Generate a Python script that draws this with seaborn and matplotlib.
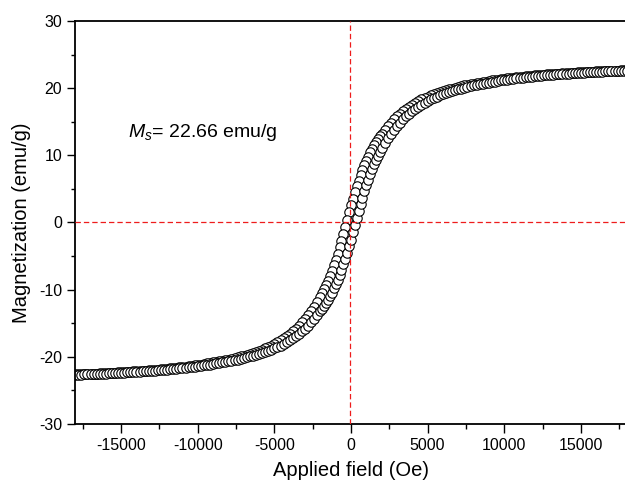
import matplotlib
matplotlib.use("Agg")
import matplotlib.pyplot as plt
import seaborn as sns
import pandas as pd
from matplotlib.ticker import MultipleLocator

# Field sweep (Oe): descending from +18 kOe to -18 kOe, finer steps around zero
field_down = [
    18000, 17800, 17600, 17400, 17200, 17000, 16800, 16600, 16400, 16200,
    16000, 15800, 15600, 15400, 15200, 15000, 14800, 14600, 14400, 14200,
    14000, 13800, 13600, 13400, 13200, 13000, 12800, 12600, 12400, 12200,
    12000, 11800, 11600, 11400, 11200, 11000, 10800, 10600, 10400, 10200,
    10000, 9800, 9600, 9400, 9200, 9000, 8800, 8600, 8400, 8200,
    8000, 7800, 7600, 7400, 7200, 7000, 6800, 6600, 6400, 6200,
    6000, 5800, 5600, 5400, 5200, 5000, 4800, 4600, 4400, 4200,
    4000, 3800, 3600, 3400, 3200, 3000, 2800, 2600, 2400, 2200,
    2000, 1875, 1750, 1625, 1500, 1375, 1250, 1125, 1000, 875,
    750, 625, 500, 375, 250, 125, 0, -125, -250, -375,
    -500, -625, -750, -875, -1000, -1125, -1250, -1375, -1500, -1625,
    -1750, -1875, -2000,
    -2200, -2400, -2600, -2800, -3000, -3200, -3400, -3600, -3800, -4000,
    -4200, -4400, -4600, -4800, -5000, -5200, -5400, -5600, -5800, -6000,
    -6200, -6400, -6600, -6800, -7000, -7200, -7400, -7600, -7800, -8000,
    -8200, -8400, -8600, -8800, -9000, -9200, -9400, -9600, -9800, -10000,
    -10200, -10400, -10600, -10800, -11000, -11200, -11400, -11600, -11800, -12000,
    -12200, -12400, -12600, -12800, -13000, -13200, -13400, -13600, -13800, -14000,
    -14200, -14400, -14600, -14800, -15000, -15200, -15400, -15600, -15800, -16000,
    -16200, -16400, -16600, -16800, -17000, -17200, -17400, -17600, -17800, -18000,
]

# Magnetization (emu/g) on the descending branch
moment_down = [
    22.66, 22.65, 22.64, 22.62, 22.61, 22.59, 22.58, 22.56, 22.54, 22.52,
    22.50, 22.48, 22.45, 22.43, 22.41, 22.38, 22.36, 22.33, 22.30, 22.27,
    22.24, 22.21, 22.18, 22.15, 22.12, 22.09, 22.06, 22.03, 21.99, 21.95,
    21.91, 21.87, 21.82, 21.77, 21.72, 21.67, 21.62, 21.57, 21.51, 21.45,
    21.39, 21.33, 21.27, 21.21, 21.15, 21.07, 20.99, 20.91, 20.83, 20.75,
    20.67, 20.59, 20.50, 20.40, 20.30, 20.18, 20.06, 19.94, 19.82, 19.70,
    19.56, 19.42, 19.28, 19.12, 18.95, 18.75, 18.55, 18.33, 18.08, 17.83,
    17.55, 17.25, 16.95, 16.60, 16.20, 15.80, 15.35, 14.85, 14.35, 13.80,
    13.20, 12.85, 12.42, 12.00, 11.50, 11.00, 10.45, 9.82, 9.20, 8.50,
    7.80, 7.05, 6.25, 5.38, 4.48, 3.55, 2.55, 1.49, 0.43, -0.64,
    -1.70, -2.75, -3.72, -4.66, -5.55, -6.40, -7.20, -7.95, -8.65, -9.32,
    -9.95, -10.55, -11.10,
    -11.90, -12.60, -13.20, -13.80, -14.35, -14.85, -15.35, -15.80, -16.20, -16.60,
    -16.95, -17.25, -17.55, -17.83, -18.08, -18.33, -18.55, -18.75, -18.95, -19.12,
    -19.28, -19.42, -19.56, -19.70, -19.82, -19.94, -20.06, -20.18, -20.30, -20.40,
    -20.50, -20.59, -20.67, -20.75, -20.83, -20.91, -20.99, -21.07, -21.15, -21.21,
    -21.27, -21.33, -21.39, -21.45, -21.51, -21.57, -21.62, -21.67, -21.72, -21.77,
    -21.82, -21.87, -21.91, -21.95, -21.99, -22.03, -22.06, -22.09, -22.12, -22.15,
    -22.18, -22.21, -22.24, -22.27, -22.30, -22.33, -22.36, -22.38, -22.41, -22.43,
    -22.45, -22.48, -22.50, -22.52, -22.54, -22.56, -22.58, -22.59, -22.61, -22.62,
]

# Ascending sweep visits the same field points in reverse order
field_up = field_down[::-1]

# Magnetization (emu/g) on the ascending branch
moment_up = [
    -22.66, -22.65, -22.64, -22.62, -22.61, -22.59, -22.58, -22.56, -22.54, -22.52,
    -22.50, -22.48, -22.45, -22.43, -22.41, -22.38, -22.36, -22.33, -22.30, -22.27,
    -22.24, -22.21, -22.18, -22.15, -22.12, -22.09, -22.06, -22.03, -21.99, -21.95,
    -21.91, -21.87, -21.82, -21.77, -21.72, -21.67, -21.62, -21.57, -21.51, -21.45,
    -21.39, -21.33, -21.27, -21.21, -21.15, -21.07, -20.99, -20.91, -20.83, -20.75,
    -20.67, -20.59, -20.50, -20.40, -20.30, -20.18, -20.06, -19.94, -19.82, -19.70,
    -19.56, -19.42, -19.28, -19.12, -18.95, -18.75, -18.55, -18.33, -18.08, -17.83,
    -17.55, -17.25, -16.95, -16.60, -16.20, -15.80, -15.35, -14.85, -14.35, -13.80,
    -13.20, -12.85, -12.42, -12.00, -11.50, -11.00, -10.45, -9.82, -9.20, -8.50,
    -7.80, -7.05, -6.25, -5.38, -4.48, -3.55, -2.55, -1.49, -0.43, 0.64,
    1.70, 2.75, 3.72, 4.66, 5.55, 6.40, 7.20, 7.95, 8.65, 9.32,
    9.95, 10.55, 11.10,
    11.90, 12.60, 13.20, 13.80, 14.35, 14.85, 15.35, 15.80, 16.20, 16.60,
    16.95, 17.25, 17.55, 17.83, 18.08, 18.33, 18.55, 18.75, 18.95, 19.12,
    19.28, 19.42, 19.56, 19.70, 19.82, 19.94, 20.06, 20.18, 20.30, 20.40,
    20.50, 20.59, 20.67, 20.75, 20.83, 20.91, 20.99, 21.07, 21.15, 21.21,
    21.27, 21.33, 21.39, 21.45, 21.51, 21.57, 21.62, 21.67, 21.72, 21.77,
    21.82, 21.87, 21.91, 21.95, 21.99, 22.03, 22.06, 22.09, 22.12, 22.15,
    22.18, 22.21, 22.24, 22.27, 22.30, 22.33, 22.36, 22.38, 22.41, 22.43,
    22.45, 22.48, 22.50, 22.52, 22.54, 22.56, 22.58, 22.59, 22.61, 22.62,
]

saturation = 22.66
field_origin = -70  # position of the vertical guide line (Oe)

sns.set_theme(style="white")
plt.rcParams["font.family"] = ["Liberation Sans", "DejaVu Sans"]
plt.rcParams["mathtext.fontset"] = "custom"
plt.rcParams["mathtext.rm"] = "Liberation Sans"
plt.rcParams["mathtext.it"] = "Liberation Sans:italic"
plt.rcParams["axes.unicode_minus"] = False

loop = pd.concat(
    [
        pd.DataFrame({"field": field_down, "moment": moment_down, "branch": "down"}),
        pd.DataFrame({"field": field_up, "moment": moment_up, "branch": "up"}),
    ],
    ignore_index=True,
)

fig = plt.figure(figsize=(6.25, 4.86), dpi=100)
ax = fig.add_axes([0.1203, 0.1276, 0.8826, 0.8292])

sns.scatterplot(
    data=loop, x="field", y="moment", ax=ax,
    marker="o", s=46, facecolor="white", edgecolor="black", linewidth=0.8,
    zorder=2, legend=False,
)

dash = (0, (4.3, 2.4))
ax.axhline(0, color="#ee1c1c", lw=0.9, linestyle=dash, zorder=3)
ax.axvline(field_origin, color="#ee1c1c", lw=0.9, linestyle=dash, zorder=3)

ax.set_xlim(-18000, 18000)
ax.set_ylim(-30, 30)
ax.xaxis.set_major_locator(MultipleLocator(5000))
ax.xaxis.set_minor_locator(MultipleLocator(2500))
ax.yaxis.set_major_locator(MultipleLocator(10))
ax.yaxis.set_minor_locator(MultipleLocator(5))

ax.tick_params(axis="x", which="major", direction="out", length=6.5, width=1.0,
               color="black", labelsize=11.5, labelcolor="black", pad=3.5,
               bottom=True, top=False)
ax.tick_params(axis="x", which="minor", direction="out", length=3.4, width=1.0,
               color="black", bottom=True, top=False)
ax.tick_params(axis="y", which="major", direction="out", length=5.8, width=1.0,
               color="black", labelsize=11.5, labelcolor="black", pad=3.5,
               left=True, right=False)
ax.tick_params(axis="y", which="minor", direction="out", length=3.1, width=1.0,
               color="black", left=True, right=False)

for side in ("left", "bottom", "top"):
    ax.spines[side].set_visible(True)
    ax.spines[side].set_color("black")
    ax.spines[side].set_linewidth(1.3)
ax.spines["right"].set_visible(False)

ax.set_xlabel("Applied field (Oe)", fontsize=14.5, color="black", labelpad=6)
ax.set_ylabel("Magnetization (emu/g)", fontsize=14.5, color="black", labelpad=6)

ax.text(-14560, 12.8, r"$\mathit{M}_{s}$" + f"= {saturation:.2f} emu/g",
        fontsize=14, color="black", ha="left", va="baseline")

fig.savefig("out.png", dpi=100, facecolor="white")
